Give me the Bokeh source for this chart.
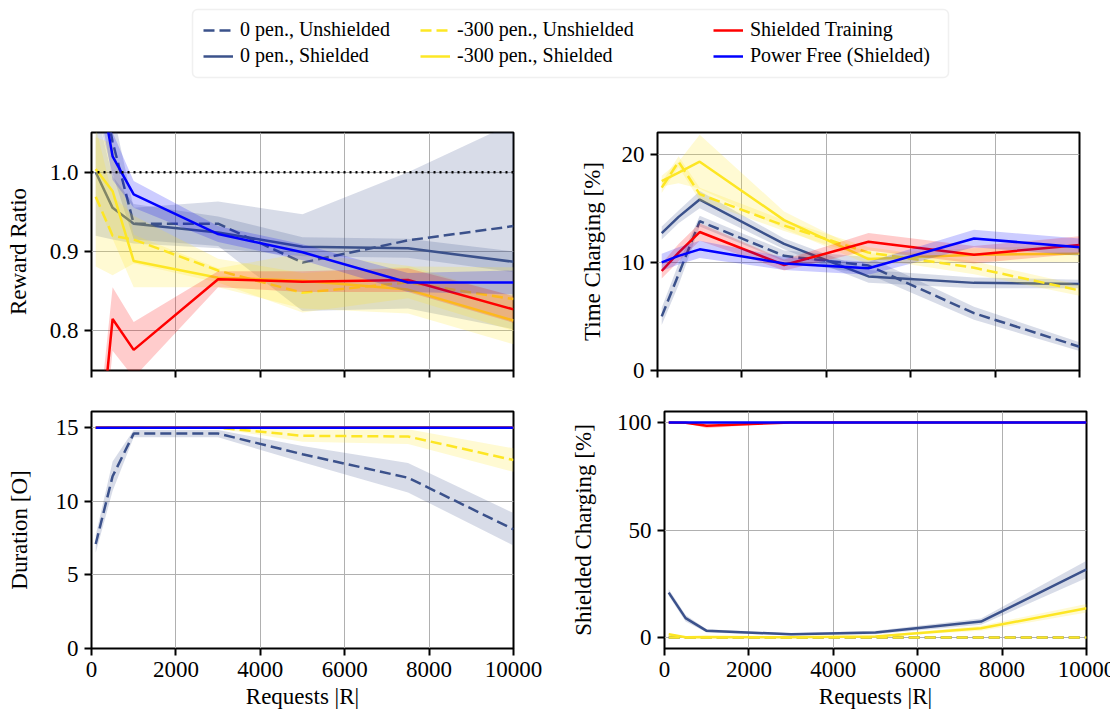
from bokeh.plotting import figure
from bokeh.layouts import column, row
from bokeh.models import (Range1d, FixedTicker, Legend, LegendItem, Span, BoxAnnotation,
                          PrintfTickFormatter)
from bokeh.embed import file_html
from bokeh.resources import INLINE

# ---------------- data ----------------
requests = [100, 500, 1000, 3000, 5000, 7500, 10000]
x_ticks = [0, 2000, 4000, 6000, 8000, 10000]

series_labels = ["0 pen., Unshielded", "0 pen., Shielded",
                 "-300 pen., Unshielded", "-300 pen., Shielded",
                 "Shielded Training", "Power Free (Shielded)"]

# Reward ratio (mean, half-width of band)
rr_u0 = [1.15, 1.038, 0.935, 0.935, 0.886, 0.914, 0.932]
rr_u0_err = [0.07, 0.04, 0.02, 0.028, 0.061, 0.086, 0.13]
rr_s0 = [1.0, 0.955, 0.935, 0.924, 0.906, 0.904, 0.887]
rr_s0_err = [0.08, 0.04, 0.025, 0.02, 0.012, 0.012, 0.013]
rr_u300 = [0.969, 0.92, 0.915, 0.876, 0.848, 0.861, 0.84]
rr_u300_err = [0.088, 0.05, 0.03, 0.015, 0.025, 0.02, 0.04]
rr_s300 = [1.004, 0.976, 0.888, 0.867, 0.863, 0.852, 0.813]
rr_s300_err = [0.04, 0.06, 0.033, 0.012, 0.035, 0.03, 0.03]
rr_tr = [0.60, 0.815, 0.776, 0.865, 0.862, 0.864, 0.827]
rr_tr_err = [0.05, 0.04, 0.035, 0.01, 0.013, 0.015, 0.017]
rr_pf = [1.14, 1.02, 0.972, 0.922, 0.899, 0.861, 0.861]
rr_pf_err = [0.03, 0.03, 0.017, 0.01, 0.01, 0.012, 0.015]
rr_reference = 1.0

# Time charging [%]
tc_u0 = [5.0, 8.9, 13.8, 10.6, 9.7, 5.3, 2.2]
tc_u0_err = [0.8, 1.0, 0.5, 0.5, 0.8, 0.6, 0.4]
tc_s0 = [12.7, 14.2, 15.8, 11.7, 8.7, 8.1, 8.0]
tc_s0_err = [0.6, 0.6, 0.8, 0.5, 0.6, 0.5, 0.4]
tc_u300 = [16.9, 19.3, 16.3, 13.4, 10.9, 9.5, 7.4]
tc_u300_err = [0.5, 0.5, 0.6, 0.5, 0.5, 0.6, 0.5]
tc_s300 = [17.5, 18.3, 19.3, 13.9, 10.3, 10.7, 10.8]
tc_s300_err = [0.5, 1.0, 2.5, 0.8, 0.5, 0.6, 0.8]
tc_tr = [9.2, 10.9, 12.8, 9.75, 11.9, 10.7, 11.6]
tc_tr_err = [0.7, 0.8, 0.8, 0.5, 0.8, 0.8, 0.8]
tc_pf = [10.0, 10.6, 11.2, 9.9, 9.45, 12.2, 11.4]
tc_pf_err = [0.8, 0.8, 0.8, 0.6, 0.6, 0.8, 0.8]

# Duration [O]
du_u0 = [7.1, 11.7, 14.6, 14.6, 13.2, 11.6, 8.1]
du_u0_err = [0.6, 1.0, 0.25, 0.25, 0.55, 1.0, 1.1]
du_s0 = [15, 15, 15, 15, 15, 15, 15]
du_s0_err = [0, 0, 0, 0, 0, 0, 0]
du_u300 = [15, 15, 15, 15, 14.45, 14.4, 12.8]
du_u300_err = [0, 0, 0, 0.05, 0.4, 0.5, 0.8]
du_s300 = [15, 15, 15, 15, 15, 15, 15]
du_s300_err = [0, 0, 0, 0, 0, 0, 0]
du_tr = [15, 15, 15, 15, 15, 15, 15]
du_tr_err = [0, 0, 0, 0, 0, 0, 0]
du_pf = [15, 15, 15, 15, 15, 15, 15]
du_pf_err = [0, 0, 0, 0, 0, 0, 0]

# Shielded charging [%]
sc_u0 = [0, 0, 0, 0, 0, 0, 0]
sc_u0_err = [0, 0, 0, 0, 0, 0, 0]
sc_s0 = [20.9, 9.0, 3.1, 1.5, 2.3, 7.4, 31.7]
sc_s0_err = [1.5, 1.5, 0.8, 0.5, 0.8, 1.5, 4.0]
sc_u300 = [0, 0, 0, 0, 0, 0, 0]
sc_u300_err = [0, 0, 0, 0, 0, 0, 0]
sc_s300 = [1.5, 0.1, 0.2, 0.1, 0.5, 4.3, 13.6]
sc_s300_err = [0.5, 0.2, 0.2, 0.2, 0.3, 1.2, 2.0]
sc_tr = [100, 99.9, 98.5, 100, 100, 100, 100]
sc_tr_err = [0, 0.2, 1.2, 0, 0, 0, 0]
sc_pf = [100, 100, 100, 100, 100, 100, 100]
sc_pf_err = [0, 0, 0, 0, 0, 0, 0]

# ---------------- style ----------------
FONT = "Liberation Serif"
FS = "23px"
LEG_FS = "20px"
SLATE = "#3b528b"
YEL = "#fde725"
RED = "#ff0000"
BLUE = "#0000ff"
DASH = "11 5"
LW = 2.5
styles = [(SLATE, DASH), (SLATE, "solid"), (YEL, DASH), (YEL, "solid"),
          (RED, "solid"), (BLUE, "solid")]


def panel(ylo, yhi, yticks, ylabel, show_x, top, bottom, left, right, fh, ylab_standoff):
    p = figure(frame_width=422, frame_height=fh,
               x_range=Range1d(0, 10000), y_range=Range1d(ylo, yhi),
               output_backend="svg", toolbar_location=None,
               min_border_left=left, min_border_right=right,
               min_border_top=top, min_border_bottom=bottom,
               background_fill_color="white", border_fill_color="white")
    p.outline_line_color = "black"
    p.outline_line_width = 2
    p.outline_line_alpha = 1
    for ax in (p.xaxis, p.yaxis):
        ax.axis_line_color = None
        ax.major_tick_line_color = "black"
        ax.major_tick_line_width = 2
        ax.major_tick_out = 7
        ax.major_tick_in = 0
        ax.minor_tick_line_color = None
        ax.major_label_text_font = FONT
        ax.major_label_text_font_size = FS
        ax.major_label_text_color = "black"
        ax.major_label_standoff = 6
        ax.axis_label_text_font = FONT
        ax.axis_label_text_font_size = FS
        ax.axis_label_text_font_style = "normal"
        ax.axis_label_text_color = "black"
    p.xaxis.ticker = FixedTicker(ticks=x_ticks)
    p.yaxis.ticker = FixedTicker(ticks=yticks)
    p.yaxis.axis_label = ylabel
    p.yaxis.axis_label_standoff = ylab_standoff
    if show_x:
        p.xaxis.axis_label = "Requests |R|"
        p.xaxis.axis_label_standoff = 4
    else:
        p.xaxis.major_label_overrides = {t: "" for t in x_ticks}
        p.xaxis.major_label_text_font_size = "0px"
        p.xaxis.major_label_standoff = 0
    p.grid.grid_line_color = "#b0b0b0"
    p.grid.grid_line_width = 1
    return p


def draw(p, data):
    for (mean, err), (color, dash) in zip(data, styles):
        lo = [m - e for m, e in zip(mean, err)]
        hi = [m + e for m, e in zip(mean, err)]
        p.line(requests, mean, line_color=color, line_dash=dash, line_width=LW)
        p.varea(x=requests, y1=lo, y2=hi, fill_color=color, fill_alpha=0.2)


# layout geometry (page has no margin)
L_LEFT, L_RIGHT, R_LEFT, R_RIGHT = 91, 54, 90, 31

tl = panel(0.75, 1.05, [0.8, 0.9, 1.0], "Reward Ratio", False, 24, 20, L_LEFT, L_RIGHT, 238, 16)
tl.yaxis.formatter = PrintfTickFormatter(format="%.1f")
tl.add_layout(Span(location=rr_reference, dimension="width", line_color="black",
                   line_dash="2 4", line_width=2.5))
draw(tl, [(rr_u0, rr_u0_err), (rr_s0, rr_s0_err), (rr_u300, rr_u300_err),
          (rr_s300, rr_s300_err), (rr_tr, rr_tr_err), (rr_pf, rr_pf_err)])

tr = panel(0, 22, [0, 10, 20], "Time Charging [%]", False, 24, 20, R_LEFT, R_RIGHT, 238, 14)
draw(tr, [(tc_u0, tc_u0_err), (tc_s0, tc_s0_err), (tc_u300, tc_u300_err),
          (tc_s300, tc_s300_err), (tc_tr, tc_tr_err), (tc_pf, tc_pf_err)])

bl = panel(0, 16.1, [0, 5, 10, 15], "Duration [O]", True, 21, 71, L_LEFT, L_RIGHT, 237, 21)
draw(bl, [(du_u0, du_u0_err), (du_s0, du_s0_err), (du_u300, du_u300_err),
          (du_s300, du_s300_err), (du_tr, du_tr_err), (du_pf, du_pf_err)])

br = panel(-5.1, 105.1, [0, 50, 100], "Shielded Charging [%]", True, 21, 71, R_LEFT, R_RIGHT, 237, 18)
draw(br, [(sc_u0, sc_u0_err), (sc_s0, sc_s0_err), (sc_u300, sc_u300_err),
          (sc_s300, sc_s300_err), (sc_tr, sc_tr_err), (sc_pf, sc_pf_err)])

# ---------------- legend figure ----------------
LW_FIG, LH_FIG = 1110, 108
lf = figure(width=LW_FIG, height=LH_FIG, x_range=Range1d(0, LW_FIG), y_range=Range1d(0, LH_FIG),
            output_backend="svg", toolbar_location=None, x_axis_type=None, y_axis_type=None,
            min_border=0, min_border_left=0, min_border_right=0, min_border_top=0,
            min_border_bottom=0, border_fill_color="white")
lf.grid.visible = False
lf.outline_line_color = None
lf.add_layout(BoxAnnotation(left=192, right=948, bottom=31, top=99,
                            fill_color="white", fill_alpha=1,
                            line_color="#cccccc", line_width=1.5, border_radius=5))
dummies = []
for color, dash in styles:
    dummies.append(lf.line(x=[-100, -90], y=[-100, -100], line_color=color,
                           line_dash=dash, line_width=LW))

col_x = [203, 420, 713]
for ci in range(3):
    items = [LegendItem(label=series_labels[2 * ci + k], renderers=[dummies[2 * ci + k]])
             for k in range(2)]
    leg = Legend(items=items, location=(col_x[ci], 41), orientation="vertical",
                 padding=0, margin=0, spacing=3, glyph_width=30, glyph_height=22,
                 label_height=22, label_standoff=7, label_text_font=FONT,
                 label_text_font_size=LEG_FS, label_text_color="black",
                 border_line_color=None, background_fill_alpha=0)
    lf.add_layout(leg)

layout = column(lf, row(tl, tr), row(bl, br))
open("out.html", "w").write(file_html(layout, INLINE))
